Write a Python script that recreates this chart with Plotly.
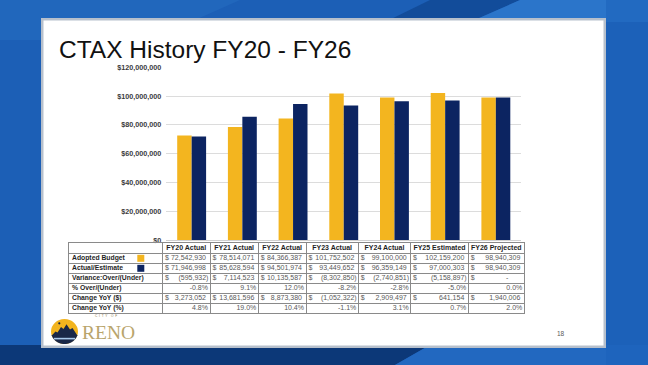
import math
import plotly.graph_objects as go

# ---------------- data ----------------
categories = ["FY20 Actual", "FY21 Actual", "FY22 Actual", "FY23 Actual",
              "FY24 Actual", "FY25 Estimated", "FY26 Projected"]
adopted_budget = [72542930, 78514071, 84366387, 101752502, 99100000, 102159200, 98940309]
actual_estimate = [71946998, 85628594, 94501974, 93449652, 96359149, 97000303, 98940309]
variance_over_under = [-595932, 7114523, 10135587, -8302850, -2740851, -5158897, 0]
pct_over_under = [-0.8, 9.1, 12.0, -8.2, -2.8, -5.0, 0.0]
change_yoy_dollars = [3273052, 13681596, 8873380, -1052322, 2909497, 641154, 1940006]
change_yoy_pct = [4.8, 19.0, 10.4, -1.1, 3.1, 0.7, 2.0]
row_labels = ["Adopted Budget", "Actual/Estimate", "Variance:Over/(Under)",
              "% Over/(Under)", "Change YoY ($)", "Change YoY (%)"]
y_tick_values = [0, 20000000, 40000000, 60000000, 80000000, 100000000, 120000000]
title_text = "CTAX History FY20 - FY26"
page_number = "18"
logo_text = "RENO"
logo_small_text = "C  I  T  Y    O  F"

# ---------------- style ----------------
W, H = 648, 365
YELLOW = "#F3B51F"
NAVY = "#0C2461"
FONT = "Liberation Sans, Arial, sans-serif"
VAL_COLOR = "#595959"
LBL_COLOR = "#1f1f1f"
GRID_TBL = "#8a8a8a"


def fx(px):
    return px / W


def fy(py):
    return 1 - py / H


# table geometry (pixel units used directly as axis units)
col_edges = [69, 162.5, 210, 258.3, 306, 358.3, 410.7, 468.3, 524.3]
row_top, row_h = 243.3, 10.0
n_rows = 1 + len(row_labels)
row_edges = [row_top + i * row_h for i in range(n_rows + 1)]
row_mid = [row_top + (i + 0.5) * row_h for i in range(n_rows)]
data_left = col_edges[1:-1]
data_right = col_edges[2:]
data_center = [(a + b) / 2 for a, b in zip(col_edges[1:-1], col_edges[2:])]


def acct(v):
    if v == 0:
        return "-", "dash"
    if v < 0:
        return "({:,})".format(-v), "neg"
    return "{:,}".format(v), "pos"


dollar_rows = {0: adopted_budget, 1: actual_estimate, 2: variance_over_under, 4: change_yoy_dollars}
pct_rows = {3: pct_over_under, 5: change_yoy_pct}

sx, sy, st = [], [], []   # "$" signs
nx, ny, nt = [], [], []   # numbers
for r, vals in dollar_rows.items():
    for c, v in enumerate(vals):
        txt, kind = acct(v)
        right = data_right[c]
        off = {"neg": 1.6, "pos": 4.0, "dash": 16.0}[kind]
        nx.append(right - off)
        ny.append(row_mid[r + 1])
        nt.append(txt)
        sx.append(data_left[c] + 2.4)
        sy.append(row_mid[r + 1])
        st.append("$")
for r, vals in pct_rows.items():
    for c, v in enumerate(vals):
        nx.append(data_right[c] - 2.0)
        ny.append(row_mid[r + 1])
        nt.append("{:.1f}%".format(v))

fig = go.Figure()

# bars
fig.add_trace(go.Bar(name="Adopted Budget", x=categories, y=adopted_budget,
                     marker=dict(color=YELLOW, line=dict(width=0)), xaxis="x", yaxis="y"))
fig.add_trace(go.Bar(name="Actual/Estimate", x=categories, y=actual_estimate,
                     marker=dict(color=NAVY, line=dict(width=0)), xaxis="x", yaxis="y"))

# table: header
fig.add_trace(go.Scatter(x=data_center, y=[row_mid[0]] * len(categories), text=categories,
                         mode="text", textposition="middle center", cliponaxis=False,
                         textfont=dict(family=FONT, size=7, color=LBL_COLOR, weight="bold"),
                         xaxis="x2", yaxis="y2", hoverinfo="skip"))
# table: row labels
fig.add_trace(go.Scatter(x=[col_edges[0] + 3] * len(row_labels), y=row_mid[1:], text=row_labels,
                         mode="text", textposition="middle right", cliponaxis=False,
                         textfont=dict(family=FONT, size=6.8, color=LBL_COLOR, weight="bold"),
                         xaxis="x2", yaxis="y2", hoverinfo="skip"))
# legend swatches in table
fig.add_trace(go.Scatter(x=[140.8, 140.8], y=row_mid[1:3], mode="markers", cliponaxis=False,
                         marker=dict(symbol="square", size=7, color=[YELLOW, NAVY], line=dict(width=0)),
                         xaxis="x2", yaxis="y2", hoverinfo="skip"))
# table: numbers
fig.add_trace(go.Scatter(x=nx, y=ny, text=nt, mode="text", textposition="middle left",
                         cliponaxis=False,
                         textfont=dict(family=FONT, size=7, color=VAL_COLOR),
                         xaxis="x2", yaxis="y2", hoverinfo="skip"))
# table: currency signs
fig.add_trace(go.Scatter(x=sx, y=sy, text=st, mode="text", textposition="middle right",
                         cliponaxis=False,
                         textfont=dict(family=FONT, size=7, color=VAL_COLOR),
                         xaxis="x2", yaxis="y2", hoverinfo="skip"))

# ---------------- decorative shapes ----------------
shapes = []


def poly(points, color, opacity=1.0, layer="below"):
    d = "M " + " L ".join("{:.5f},{:.5f}".format(fx(x), fy(y)) for x, y in points) + " Z"
    return dict(type="path", xref="paper", yref="paper", path=d, fillcolor=color,
                line=dict(width=0), opacity=opacity, layer=layer)


def rect(x0, y0, x1, y1, color, layer="below", opacity=1.0):
    return dict(type="rect", xref="paper", yref="paper", x0=fx(x0), x1=fx(x1),
                y0=fy(y1), y1=fy(y0), fillcolor=color, line=dict(width=0),
                layer=layer, opacity=opacity)


# background streaks
shapes.append(poly([(0, 0), (240, 0), (150, 40), (0, 40)], "#2a72c6", 0.4))
shapes.append(poly([(430, 0), (520, 0), (470, 22), (385, 22)], "#0f4590", 0.75))
shapes.append(poly([(520, 0), (648, 0), (648, 22), (470, 22)], "#2f7ad0", 0.8))
shapes.append(poly([(0, 345), (430, 345), (395, 365), (0, 365)], "#0c3878", 1.0))
shapes.append(poly([(430, 345), (648, 345), (648, 365), (395, 365)], "#2268c0", 1.0))
shapes.append(poly([(606, 0), (648, 0), (648, 365), (606, 365)], "#1d63bb", 0.6))
# slide
shapes.append(rect(41, 18, 606, 348, "#b7c0cc"))
shapes.append(rect(43.5, 20.5, 603.5, 345.5, "#ffffff"))

# logo
cx, cy, rx, ry = 64.5, 331.5, 13.5, 12.5
shapes.append(dict(type="circle", xref="paper", yref="paper",
                   x0=fx(cx - rx), x1=fx(cx + rx), y0=fy(cy + ry), y1=fy(cy - ry),
                   fillcolor="#F2B41E", line=dict(width=0), layer="below"))
shapes.append(poly([(51.3, 336), (55.5, 331.5), (57.5, 332.5), (61, 327), (63.5, 329),
                    (66.5, 324.3), (70, 329.5), (72.5, 328), (77.7, 336)], "#1a2848"))
yb = 335.6
t0 = math.asin((yb - cy) / ry)
arc = []
for i in range(25):
    t = t0 + (math.pi - 2 * t0) * i / 24
    arc.append((cx + rx * math.cos(t), cy + ry * math.sin(t)))
shapes.append(poly(arc, "#1a2848"))
ys = 338.6
ts = math.asin((ys - cy) / ry)
shapes.append(dict(type="line", xref="paper", yref="paper",
                   x0=fx(cx - rx * math.cos(ts) + 0.5), x1=fx(cx + rx * math.cos(ts) - 0.5),
                   y0=fy(ys), y1=fy(ys), line=dict(color="#a9c8ea", width=1.6), layer="below"))
shapes.append(dict(type="circle", xref="paper", yref="paper",
                   x0=fx(58.2), x1=fx(60.4), y0=fy(324.4), y1=fy(322.2),
                   fillcolor="#1a2848", line=dict(width=0), layer="below"))

# cover the empty header label cell of the table
shapes.append(dict(type="rect", xref="x2", yref="y2",
                   x0=col_edges[0] - 2, x1=col_edges[1] - 0.7,
                   y0=row_edges[0] - 0.8, y1=row_edges[1] - 0.6,
                   fillcolor="#ffffff", line=dict(width=0), layer="above"))

annotations = [
    dict(text=title_text, x=fx(57), y=fy(49.5), xref="paper", yref="paper",
         xanchor="left", yanchor="middle", showarrow=False,
         font=dict(family=FONT, size=24.5, color="#111111")),
    dict(text=page_number, x=fx(561), y=fy(333), xref="paper", yref="paper",
         xanchor="center", yanchor="middle", showarrow=False,
         font=dict(family=FONT, size=6.5, color="#595959")),
    dict(text=logo_text, x=fx(79.5), y=fy(332), xref="paper", yref="paper",
         xanchor="left", yanchor="middle", showarrow=False,
         font=dict(family="Liberation Serif, Times New Roman, serif", size=19.5, color="#b9a56c")),
    dict(text=logo_small_text, x=fx(105.5), y=fy(315.5), xref="paper", yref="paper",
         xanchor="center", yanchor="middle", showarrow=False,
         font=dict(family=FONT, size=3.2, color="#8a7a4a")),
]

fig.update_layout(
    width=W, height=H,
    margin=dict(l=0, r=0, t=0, b=0),
    paper_bgcolor="#1c5fb6",
    plot_bgcolor="rgba(0,0,0,0)",
    showlegend=False,
    barmode="group", bargap=0.43, bargroupgap=0,
    xaxis=dict(domain=[fx(166.3), fx(521.2)], anchor="y", showticklabels=False,
               showgrid=False, zeroline=False, showline=False, ticks="", fixedrange=True),
    yaxis=dict(domain=[fy(240), fy(67.3)], anchor="x", range=[0, 120000000],
               tickvals=y_tick_values, tickformat="$,.0f", ticks="", ticklabelstandoff=4,
               tickfont=dict(family=FONT, size=7.2, color="#3a3a3a", weight="bold"),
               showgrid=True, gridcolor="#dcdcdc", gridwidth=1,
               zeroline=True, zerolinecolor="#d0d0d0", zerolinewidth=1,
               showline=False, automargin=False, fixedrange=True),
    xaxis2=dict(domain=[fx(col_edges[0]), fx(col_edges[-1])], anchor="y2",
                range=[col_edges[0], col_edges[-1]], tickvals=col_edges[1:-1],
                showticklabels=False, ticks="", showgrid=True, gridcolor=GRID_TBL, gridwidth=1,
                zeroline=False, showline=True, mirror=True, linecolor=GRID_TBL, linewidth=1,
                fixedrange=True),
    yaxis2=dict(domain=[fy(row_edges[-1]), fy(row_edges[0])], anchor="x2",
                range=[row_edges[-1], row_edges[0]], tickvals=row_edges[1:-1],
                showticklabels=False, ticks="", showgrid=True, gridcolor=GRID_TBL, gridwidth=1,
                zeroline=False, showline=True, mirror=True, linecolor=GRID_TBL, linewidth=1,
                fixedrange=True),
    shapes=shapes,
    annotations=annotations,
)

fig.write_html(
    "out.html",
    config={"displayModeBar": False},
    post_script="document.body.style.margin='0';document.body.style.overflow='hidden';",
)
